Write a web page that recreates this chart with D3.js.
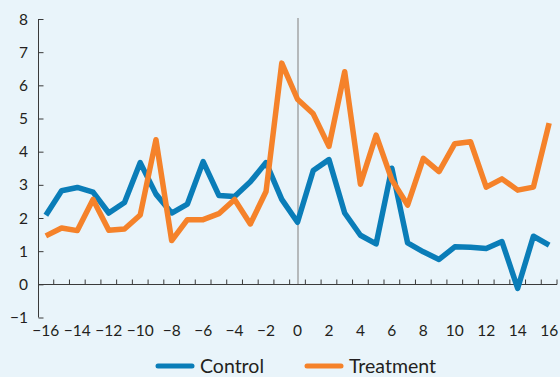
<!DOCTYPE html>
<html>
<head>
<meta charset="utf-8">
<script src="https://cdn.jsdelivr.net/npm/d3@7"></script>
<style>
  html, body { margin: 0; padding: 0; background: #e9f4fa; }
  svg { display: block; }
  text { font-family: Lato, "Open Sans", sans-serif; fill: #231f20; }
</style>
</head>
<body>
<svg id="chart" width="560" height="377"></svg>
<script>
const periods = d3.range(-16, 17);
const control = [2.08, 2.82, 2.92, 2.78, 2.15, 2.47, 3.67, 2.72, 2.15, 2.42, 3.70, 2.68, 2.65, 3.09, 3.67, 2.56, 1.87,
                 3.43, 3.76, 2.15, 1.48, 1.22, 3.50, 1.25, 0.98, 0.75, 1.13, 1.12, 1.08, 1.29, -0.12, 1.45, 1.18];
const treatment = [1.46, 1.70, 1.62, 2.56, 1.63, 1.67, 2.09, 4.36, 1.32, 1.95, 1.95, 2.13, 2.56, 1.82, 2.80, 6.67, 5.58,
                   5.14, 4.16, 6.41, 3.02, 4.50, 3.15, 2.39, 3.80, 3.40, 4.24, 4.30, 2.93, 3.18, 2.84, 2.93, 4.86];
const yTicks = d3.range(-1, 9);
const xLabels = d3.range(-16, 17, 2);
const seriesNames = ["Control", "Treatment"];
const colors = ["#0a7db8", "#f5822a"];

const svg = d3.select("#chart");
const x = d3.scaleBand().domain(periods).range([38, 557]).padding(0);
const cx = d => x(d) + x.bandwidth() / 2;
const y = d3.scaleLinear().domain([-1, 8]).range([317.5, 19]);
const axisColor = "#3a3a3a";

// y axis
const yAxis = svg.append("g").attr("transform", "translate(38.5,0)")
  .call(d3.axisRight(y).tickValues(yTicks).tickSize(5).tickFormat(""));
yAxis.select(".domain").attr("stroke", axisColor).attr("d", `M0,${y(8)}V${y(-1)}`);
yAxis.selectAll(".tick line").attr("stroke", axisColor);
svg.append("g").selectAll("text").data(yTicks).join("text")
  .attr("x", 28).attr("y", d => y(d)).attr("dy", "0.36em")
  .attr("text-anchor", "end").attr("font-size", 15.5)
  .text(d => d < 0 ? "\u2212" + Math.abs(d) : d);

// vertical line at 0
svg.append("line").attr("x1", cx(0) + 0.5).attr("x2", cx(0) + 0.5)
  .attr("y1", 18).attr("y2", y(0)).attr("stroke", "#9a9a9a").attr("stroke-width", 1.3);

// x axis (ticks at band boundaries)
const xa = svg.append("g").attr("transform", `translate(0,${Math.round(y(0)) + 0.5})`);
xa.append("line").attr("x1", 38).attr("x2", 557).attr("stroke", axisColor);
xa.selectAll("line.t").data(periods).join("line").attr("class", "t")
  .attr("x1", d => x(d) + x.bandwidth()).attr("x2", d => x(d) + x.bandwidth())
  .attr("y1", 0).attr("y2", -5).attr("stroke", axisColor);
svg.append("g").selectAll("text").data(xLabels).join("text")
  .attr("x", d => cx(d)).attr("y", 330).attr("dy", "0.36em")
  .attr("text-anchor", "middle").attr("font-size", 15.5)
  .text(d => d < 0 ? "\u2212" + Math.abs(d) : d);

// lines
const line = d3.line().x((d, i) => cx(periods[i])).y(d => y(d));
[control, treatment].forEach((s, i) => {
  svg.append("path").datum(s).attr("d", line).attr("fill", "none")
    .attr("stroke", colors[i]).attr("stroke-width", 5.5)
    .attr("stroke-linejoin", "round");
});

// legend
const legendX = [158, 307];
seriesNames.forEach((n, i) => {
  svg.append("line").attr("x1", legendX[i]).attr("x2", legendX[i] + 34)
    .attr("y1", 366).attr("y2", 366).attr("stroke", colors[i])
    .attr("stroke-width", 5).attr("stroke-linecap", "round");
  svg.append("text").attr("x", legendX[i] + 42).attr("y", 366).attr("dy", "0.36em")
    .attr("font-size", 19.5).text(n);
});
</script>
</body>
</html>
